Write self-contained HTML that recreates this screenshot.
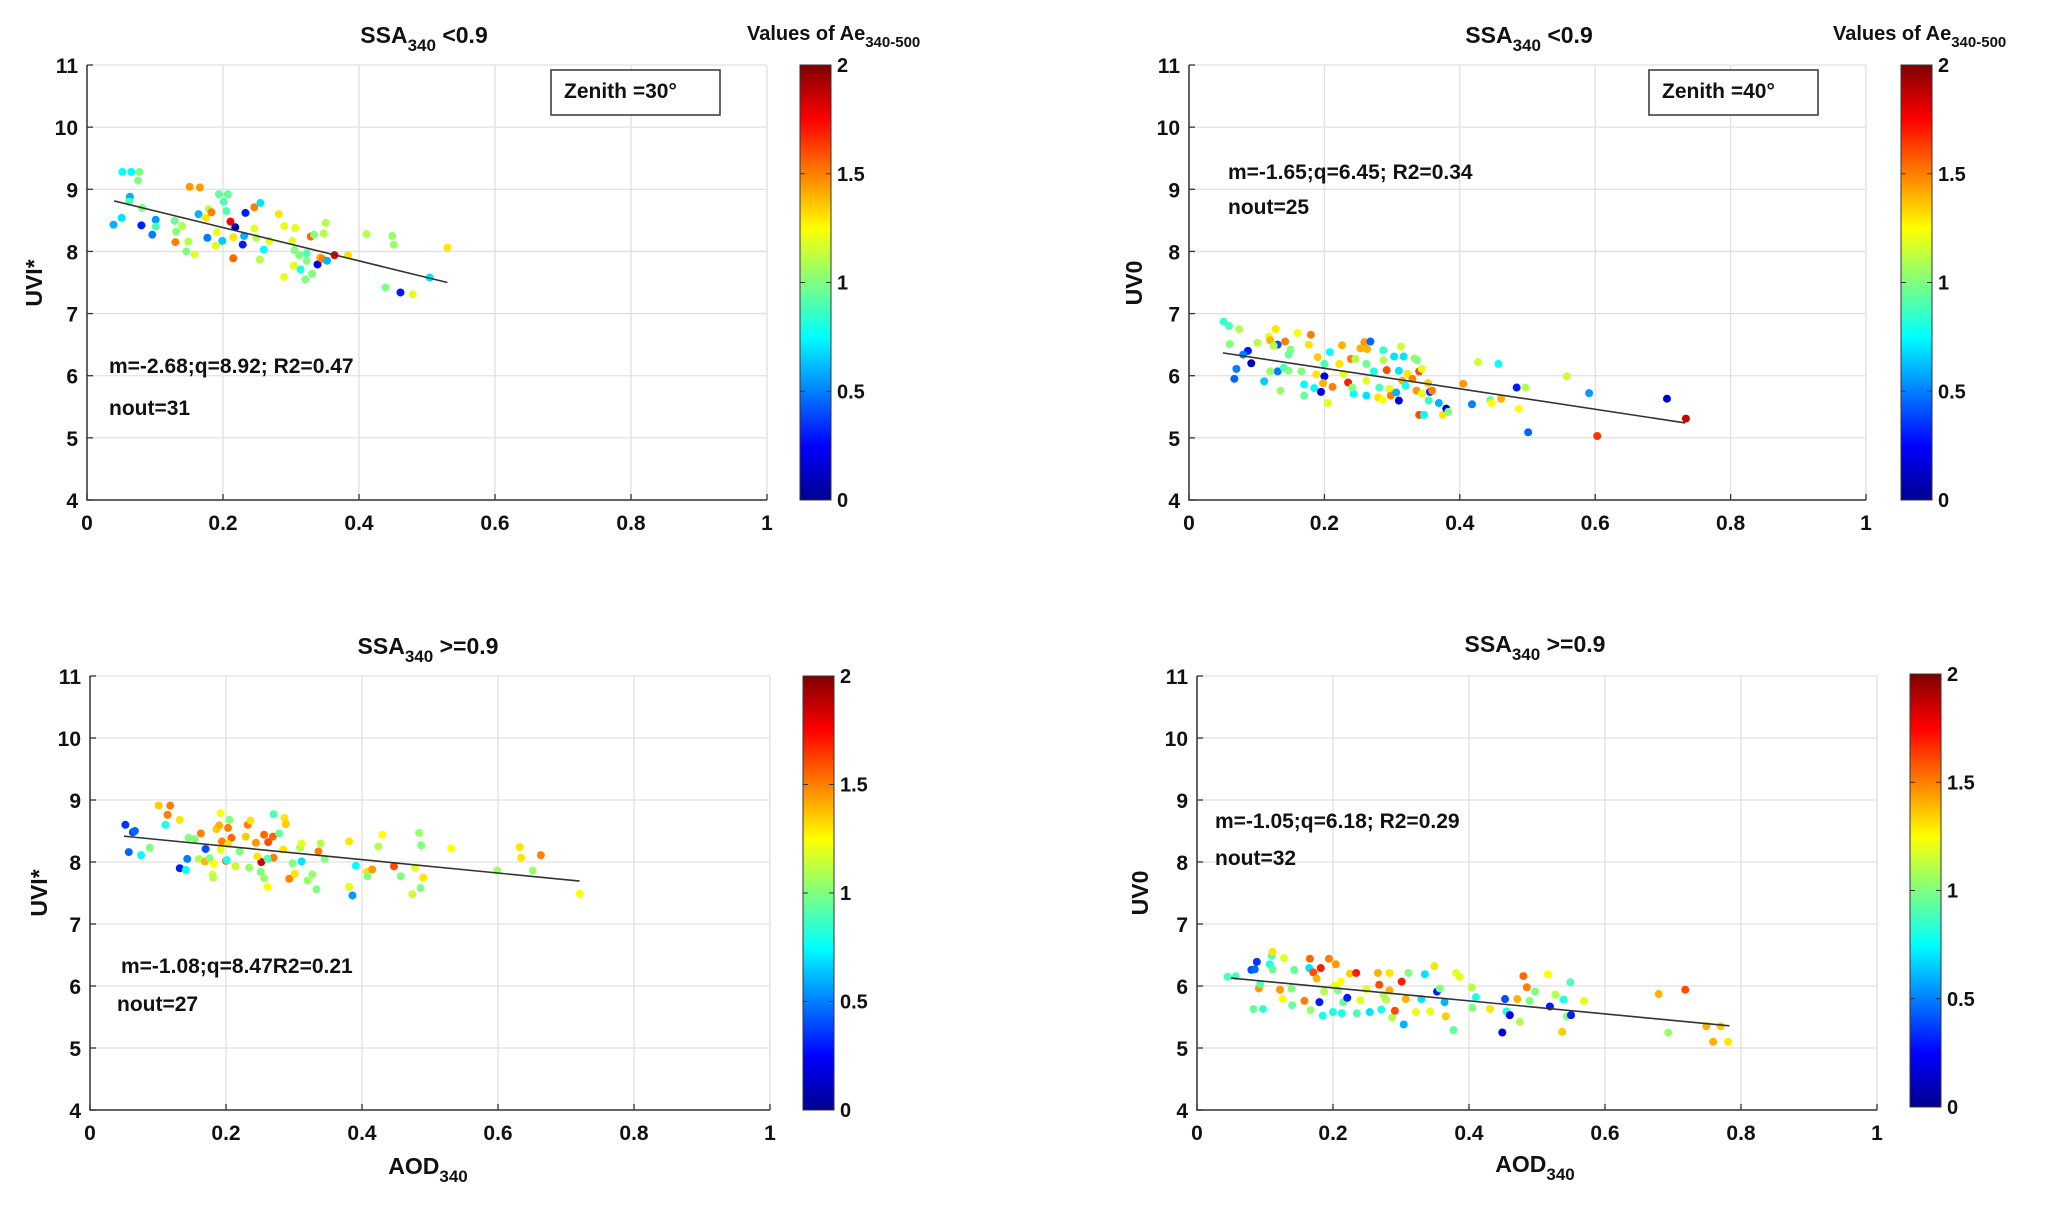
<!DOCTYPE html>
<html><head><meta charset="utf-8"><style>
html,body{margin:0;padding:0;background:#fff;}
svg{display:block;font-family:"Liberation Sans",Arial,sans-serif;font-weight:bold;}
</style></head><body>
<svg id="fig" width="2067" height="1207" viewBox="0 0 2067 1207" xmlns="http://www.w3.org/2000/svg">
<defs>
<linearGradient id="jet" x1="0" y1="1" x2="0" y2="0">
<stop offset="0" stop-color="#00008f"/><stop offset="0.125" stop-color="#0000ff"/><stop offset="0.375" stop-color="#00ffff"/><stop offset="0.625" stop-color="#ffff00"/><stop offset="0.875" stop-color="#ff0000"/><stop offset="1" stop-color="#800000"/>
</linearGradient>
</defs>
</svg>
<script>
// Panel 1: SSA<0.9, zenith 30
const p1x=[.052,.065,.077,.075,.063,.062,.081,.051,.039,.080,.101,.101,.096,.129,.140,.131,.130,.149,.146,.158,.151,.166,.164,.175,.179,.183,.177,.191,.189,.194,.207,.201,.205,.199,.211,.218,.215,.215,.229,.233,.231,.246,.246,.255,.249,.260,.254,.282,.290,.268,.302,.306,.305,.312,.323,.323,.304,.290,.314,.329,.334,.339,.343,.346,.353,.348,.351,.364,.384,.321,.331,.411,.449,.451,.439,.461,.479,.504,.530];
const p1y=[9.28,9.28,9.28,9.14,8.88,8.80,8.70,8.54,8.43,8.42,8.51,8.40,8.27,8.49,8.41,8.32,8.15,8.16,8.00,7.95,9.04,9.03,8.60,8.54,8.68,8.63,8.22,8.31,8.09,8.92,8.92,8.80,8.65,8.17,8.48,8.39,7.89,8.23,8.11,8.62,8.25,8.71,8.37,8.78,8.22,8.03,7.87,8.60,8.41,8.17,8.17,8.38,8.02,7.94,7.97,7.85,7.77,7.59,7.71,8.24,8.27,7.79,7.90,7.88,7.85,8.29,8.46,7.94,7.94,7.55,7.64,8.28,8.25,8.11,7.42,7.34,7.31,7.58,8.06];
const p1c=[.75,.75,1.0,1.0,.6,.9,1.0,.7,.6,.3,.55,.9,.5,.95,1.1,1.0,1.5,1.1,1.0,1.2,1.45,1.45,.6,1.3,1.1,1.5,.5,1.2,1.2,.95,.95,.9,.9,.65,1.75,.1,1.55,1.3,.3,.3,.6,1.5,1.2,.7,1.1,.75,1.1,1.3,1.2,1.2,1.2,1.2,1.0,1.0,.9,1.0,1.2,1.2,.8,1.55,1.0,.2,1.4,1.5,.6,1.1,1.1,1.8,1.3,1.0,1.0,1.1,1.05,1.05,1.0,.3,1.2,.7,1.3];
const p1fit=[-2.68,8.92,0.04,0.53];
// Panel 2: SSA<0.9, zenith 40
const p2x=[.051,.059,.074,.060,.087,.080,.092,.070,.067,.111,.101,.118,.128,.120,.131,.125,.142,.150,.147,.160,.180,.177,.131,.140,.120,.147,.166,.135,.170,.170,.185,.190,.188,.195,.200,.200,.198,.205,.208,.212,.222,.226,.228,.235,.239,.243,.241,.246,.253,.259,.268,.263,.262,.262,.262,.273,.279,.281,.286,.287,.287,.292,.296,.298,.303,.306,.310,.310,.313,.317,.315,.320,.323,.330,.333,.337,.340,.344,.336,.344,.353,.356,.359,.354,.340,.347,.369,.375,.380,.383,.405,.418,.427,.445,.447,.457,.461,.484,.487,.497,.501,.558,.591,.603,.706,.734];
const p2y=[6.87,6.80,6.75,6.51,6.40,6.34,6.20,6.11,5.95,5.91,6.53,6.63,6.75,6.57,6.50,6.48,6.55,6.42,6.34,6.69,6.66,6.50,6.07,6.13,6.07,6.08,6.07,5.76,5.86,5.68,5.80,6.30,6.02,5.74,5.99,6.19,5.88,5.56,6.38,5.82,6.19,6.49,6.03,5.89,6.27,5.71,5.81,6.27,6.44,6.54,6.55,6.43,6.19,5.92,5.68,6.07,5.65,5.81,5.61,6.41,6.25,6.09,5.79,5.68,6.31,5.73,5.60,6.08,6.47,6.31,5.92,5.84,6.03,5.95,6.28,6.25,6.07,6.11,5.76,5.71,5.88,5.74,5.76,5.60,5.37,5.37,5.56,5.37,5.47,5.42,5.87,5.54,6.22,5.61,5.56,6.19,5.63,5.81,5.47,5.81,5.09,5.99,5.72,5.03,5.63,5.31];
const p2c=[.85,.9,1.1,1.0,.3,.5,.1,.5,.45,.65,1.1,1.2,1.3,1.4,.4,1.1,1.5,1.0,.95,1.25,1.5,1.3,.5,.9,1.05,1.0,1.0,1.05,.75,.95,.75,1.35,1.3,.2,.2,.9,1.4,1.2,.75,1.5,1.3,1.4,1.2,1.7,1.5,.75,1.0,1.1,1.4,1.45,.45,1.4,.95,1.2,.7,.8,1.3,.9,1.25,.85,1.1,1.6,1.2,1.5,.7,.6,.2,.7,1.15,.7,1.4,.8,1.3,1.5,1.05,1.0,1.6,1.2,1.45,1.2,1.35,.3,1.5,.85,1.6,.75,.6,1.3,.2,1.0,1.45,.5,1.15,.95,1.25,.75,1.4,.3,1.25,1.1,.45,1.15,.55,1.65,.15,1.85];
const p2fit=[-1.65,6.45,0.05,0.733];
// Panel 3: SSA>=0.9, zenith 30
const p3x=[.052,.063,.066,.057,.075,.088,.101,.118,.114,.111,.132,.132,.141,.143,.145,.160,.154,.163,.170,.169,.176,.180,.181,.182,.186,.192,.190,.194,.192,.200,.201,.205,.203,.208,.203,.214,.220,.232,.236,.229,.234,.244,.252,.246,.251,.256,.261,.256,.262,.269,.270,.261,.270,.278,.286,.288,.284,.293,.298,.301,.309,.311,.311,.320,.327,.333,.336,.339,.345,.381,.381,.386,.391,.407,.408,.415,.424,.430,.447,.457,.474,.478,.484,.487,.486,.490,.531,.599,.632,.634,.651,.663,.720];
const p3y=[8.60,8.48,8.50,8.16,8.11,8.23,8.91,8.91,8.76,8.60,8.68,7.90,7.87,8.05,8.39,8.05,8.37,8.46,8.21,8.01,8.06,7.80,7.75,7.97,8.53,8.79,8.59,8.33,8.20,8.02,8.03,8.68,8.55,8.39,8.29,7.93,8.17,8.60,8.67,8.41,7.91,8.31,8.00,8.09,7.84,7.74,7.60,8.44,8.32,8.41,8.07,8.05,8.77,8.46,8.71,8.61,8.20,7.73,7.98,7.81,8.23,8.30,8.01,7.70,7.80,7.56,8.17,8.30,8.05,8.33,7.60,7.46,7.94,7.84,7.77,7.88,8.25,8.44,7.93,7.77,7.48,7.91,8.47,8.27,7.58,7.75,8.22,7.86,8.24,8.07,7.86,8.11,7.49];
const p3c=[.35,.4,.45,.45,.75,1.0,1.35,1.5,1.5,.8,1.3,.3,.75,.5,1.0,1.1,1.0,1.5,.4,1.4,1.0,1.2,1.1,1.25,1.35,1.25,1.4,1.5,1.2,1.6,.8,1.0,1.5,1.55,1.3,1.15,1.0,1.5,1.3,1.35,1.05,1.45,1.85,1.3,1.0,1.05,1.25,1.55,1.6,1.55,1.5,.9,.9,.95,1.3,1.35,1.3,1.5,1.0,1.3,1.1,1.2,.7,1.05,1.05,1.0,1.5,1.1,1.0,1.3,1.2,.55,.75,1.3,1.0,1.45,1.1,1.25,1.6,1.0,1.15,1.2,1.05,1.0,1.0,1.3,1.25,1.05,1.3,1.3,1.05,1.5,1.25];
const p3fit=[-1.08,8.47,0.05,0.72];
// Panel 4: SSA>=0.9, zenith 40
const p4x=[.045,.057,.080,.085,.088,.091,.093,.083,.097,.107,.110,.111,.111,.128,.122,.126,.140,.139,.143,.158,.165,.166,.167,.171,.176,.180,.182,.185,.187,.194,.200,.202,.204,.207,.211,.213,.215,.221,.225,.234,.235,.240,.249,.254,.266,.268,.271,.274,.278,.283,.283,.287,.291,.301,.304,.307,.311,.322,.330,.335,.343,.349,.353,.357,.364,.366,.377,.381,.386,.404,.405,.410,.431,.449,.453,.455,.460,.471,.475,.480,.485,.489,.497,.516,.519,.527,.539,.537,.544,.549,.550,.569,.679,.693,.718,.749,.759,.770,.781];
const p4y=[6.15,6.16,6.26,6.27,6.39,5.96,6.03,5.63,5.63,6.35,6.49,6.55,6.27,6.45,5.94,5.79,5.69,5.96,6.26,5.76,6.29,6.44,5.61,6.22,6.12,5.74,6.29,5.52,5.91,6.44,5.58,6.00,6.35,5.93,6.07,5.56,5.74,5.81,6.20,6.21,5.56,5.77,5.95,5.58,6.21,6.02,5.62,5.86,5.78,6.21,5.93,5.49,5.60,6.07,5.38,5.79,6.21,5.58,5.79,6.19,5.59,6.32,5.91,5.96,5.74,5.51,5.29,6.21,6.15,5.98,5.65,5.82,5.63,5.25,5.79,5.59,5.53,5.79,5.42,6.16,5.98,5.76,5.91,6.19,5.67,5.86,5.78,5.26,5.51,6.06,5.53,5.76,5.87,5.25,5.94,5.35,5.10,5.35,5.10];
const p4c=[.9,.9,.4,.45,.35,1.45,.9,.95,.85,.8,.9,1.3,.95,1.2,1.45,1.25,.95,1.0,.95,1.5,.7,1.55,1.05,1.6,1.4,.3,1.7,.8,1.1,1.5,.8,1.2,1.45,1.0,1.25,.8,.95,.3,1.35,1.7,.9,1.2,1.2,.7,1.4,1.6,.8,1.1,1.1,1.3,1.4,1.1,1.6,1.7,.6,1.4,1.0,1.2,.7,.7,1.2,1.3,.3,1.0,.6,1.35,.95,1.2,1.2,1.1,1.0,.8,1.3,.2,.4,.8,.2,1.4,1.1,1.55,1.5,1.0,1.0,1.25,.3,1.1,.8,1.35,1.0,.9,.3,1.2,1.4,1.05,1.6,1.4,1.4,1.35,1.3];
const p4fit=[-1.05,6.18,0.05,0.783];
const xTicks=[0,0.2,0.4,0.6,0.8,1];
const xTickLabels=["0","0.2","0.4","0.6","0.8","1"];
const yTicks=[4,5,6,7,8,9,10,11];
const cbTicks=[0,0.5,1,1.5,2];
const cbTickLabels=["0","0.5","1","1.5","2"];

const NS="http://www.w3.org/2000/svg";
const svg=document.getElementById('fig');
function mk(tag,attrs,parent){const e=document.createElementNS(NS,tag);for(const k in attrs)e.setAttribute(k,attrs[k]);(parent||svg).appendChild(e);return e;}
function jet(v){const t=Math.max(0,Math.min(1,v/2));const f=a=>Math.round(255*Math.max(0,Math.min(1,1.5-Math.abs(4*t-a))));return `rgb(${f(3)},${f(2)},${f(1)})`;}

function panel(id,L,R,T,B,cbL,cbT,cbB,xs,ys,cs,fit){
  const g=mk('g',{});
  
  
  const sx=v=>L+(R-L)*v, sy=v=>B-(B-T)*(v-4)/7;
  const plot=mk('rect',{x:L,y:T,width:R-L,height:B-T,fill:'#fff'},g);
  
  
  xTicks.forEach((t,i)=>{
    const gl=mk('line',{x1:sx(t),x2:sx(t),y1:T,y2:B,stroke:'#e0e0e0','stroke-width':1.3},g);
    
    
    mk('line',{x1:sx(t),x2:sx(t),y1:B,y2:B-6,stroke:'#333','stroke-width':1.3},g);
    const tl=mk('text',{x:sx(t),y:B+30,'text-anchor':'middle','font-size':21,fill:'#111'},g);
    tl.textContent=xTickLabels[i];
    
    
  });
  yTicks.forEach(t=>{
    const gl=mk('line',{x1:L,x2:R,y1:sy(t),y2:sy(t),stroke:'#e0e0e0','stroke-width':1.3},g);
    
    
    mk('line',{x1:L,x2:L+6,y1:sy(t),y2:sy(t),stroke:'#333','stroke-width':1.3},g);
    const tl=mk('text',{x:L-9,y:sy(t)+8,'text-anchor':'end','font-size':21,fill:'#111'},g);
    tl.textContent=String(t);
    
    
  });
  const ax=mk('path',{d:`M${L},${T}V${B}H${R}`,stroke:'#333','stroke-width':1.5,fill:'none'},g);
  
  
  for(let i=0;i<xs.length;i++){
    const d=mk('circle',{cx:sx(xs[i]),cy:sy(ys[i]),r:4,fill:jet(cs[i])},g);
    
    
  }
  const fl=mk('line',{x1:sx(fit[2]),y1:sy(fit[0]*fit[2]+fit[1]),x2:sx(fit[3]),y2:sy(fit[0]*fit[3]+fit[1]),stroke:'#333','stroke-width':1.6},g);
  
  
  const cb=mk('rect',{x:cbL,y:cbT,width:31,height:cbB-cbT,fill:'url(#jet)',stroke:'#333','stroke-width':1},g);
  
  
  cbTicks.forEach((t,i)=>{
    const y=cbB-(cbB-cbT)*t/2;
    mk('line',{x1:cbL,x2:cbL+5,y1:y,y2:y,stroke:'#333'},g);
    mk('line',{x1:cbL+26,x2:cbL+31,y1:y,y2:y,stroke:'#333'},g);
    const tl=mk('text',{x:cbL+37,y:y+7,'font-size':20,fill:'#111'},g);
    tl.textContent=cbTickLabels[i];
    
    
  });
}
panel('panel-ssa-lt09-zenith30',87,767,65,500,800,65,500,p1x,p1y,p1c,p1fit);
panel('panel-ssa-lt09-zenith40',1189,1866,65,500,1901,65,500,p2x,p2y,p2c,p2fit);
panel('panel-ssa-ge09-zenith30',90,770,676,1110,803,676,1110,p3x,p3y,p3c,p3fit);
panel('panel-ssa-ge09-zenith40',1197,1877,676,1110,1910,674,1107,p4x,p4y,p4c,p4fit);
</script>
<svg width="2067" height="1207" style="position:absolute;left:0;top:0" xmlns="http://www.w3.org/2000/svg" font-family="Liberation Sans, Arial, sans-serif" font-weight="bold" fill="#111">
<text x="424" y="43" text-anchor="middle" font-size="23">SSA<tspan font-size="17" dy="8">340</tspan><tspan dy="-8"> &lt;0.9</tspan></text>
<text x="1529" y="43" text-anchor="middle" font-size="23">SSA<tspan font-size="17" dy="8">340</tspan><tspan dy="-8"> &lt;0.9</tspan></text>
<text x="428" y="654" text-anchor="middle" font-size="23">SSA<tspan font-size="17" dy="8">340</tspan><tspan dy="-8"> &gt;=0.9</tspan></text>
<text x="1535" y="652" text-anchor="middle" font-size="23">SSA<tspan font-size="17" dy="8">340</tspan><tspan dy="-8"> &gt;=0.9</tspan></text>
<text x="747" y="40" font-size="20">Values of Ae<tspan font-size="15" dy="7">340-500</tspan></text>
<text x="1833" y="40" font-size="20">Values of Ae<tspan font-size="15" dy="7">340-500</tspan></text>
<rect x="551" y="70" width="169" height="45" fill="#fff" stroke="#333" stroke-width="1.5"/>
<text x="564" y="98" font-size="21">Zenith =30°</text>
<rect x="1649" y="70" width="169" height="45" fill="#fff" stroke="#333" stroke-width="1.5"/>
<text x="1662" y="98" font-size="21">Zenith =40°</text>
<text x="109" y="373" font-size="21">m=-2.68;q=8.92; R2=0.47</text>
<text x="109" y="415" font-size="21">nout=31</text>
<text x="1228" y="179" font-size="21">m=-1.65;q=6.45; R2=0.34</text>
<text x="1228" y="214" font-size="21">nout=25</text>
<text x="121" y="973" font-size="21">m=-1.08;q=8.47R2=0.21</text>
<text x="117" y="1011" font-size="21">nout=27</text>
<text x="1215" y="828" font-size="21">m=-1.05;q=6.18; R2=0.29</text>
<text x="1215" y="865" font-size="21">nout=32</text>
<text transform="translate(42,283) rotate(-90)" text-anchor="middle" font-size="23">UVI*</text>
<text transform="translate(1142,283) rotate(-90)" text-anchor="middle" font-size="23">UV0</text>
<text transform="translate(47,893) rotate(-90)" text-anchor="middle" font-size="23">UVI*</text>
<text transform="translate(1148,893) rotate(-90)" text-anchor="middle" font-size="23">UV0</text>
<text x="428" y="1174" text-anchor="middle" font-size="23">AOD<tspan font-size="17" dy="8">340</tspan></text>
<text x="1535" y="1172" text-anchor="middle" font-size="23">AOD<tspan font-size="17" dy="8">340</tspan></text>
</svg>
</body></html>
